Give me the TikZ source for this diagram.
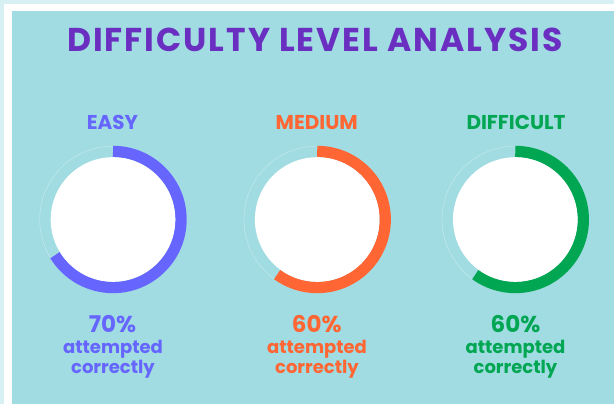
\documentclass[tikz,border=0pt]{standalone}
\usepackage{fontspec}
\setmainfont{Poppins}
\definecolor{pale}{HTML}{D6F0F3}
\definecolor{panel}{HTML}{A0DCE2}
\definecolor{titlepurple}{HTML}{6A2EC1}
\definecolor{easyblue}{HTML}{6666FF}
\definecolor{mediumorange}{HTML}{FF6633}
\definecolor{difficultgreen}{HTML}{00A651}
\tikzset{
  ring/.style={line width=11.4pt},
  track/.style={white, opacity=0.45, line width=0.4pt},
  heading/.style={font=\fontsize{33}{33}\selectfont\bfseries\addfontfeatures{LetterSpace=6}, text=titlepurple, anchor=base},
  level/.style={font=\fontsize{20}{20}\selectfont\bfseries, anchor=base},
  pct/.style={font=\fontsize{23}{23}\selectfont\bfseries, anchor=base},
  caption/.style={font=\fontsize{18}{18}\selectfont\bfseries, anchor=base},
}

\begin{document}
\begin{tikzpicture}[x=1pt,y=1pt]
    \fill[pale] (0,0) rectangle (614,404);
    \fill[white] (4,0) rectangle (614,400);
    \fill[panel] (12,0) rectangle (614,393);
    \node[heading] (title) at (315,352.3) {DIFFICULTY LEVEL ANALYSIS};

    % easy
    \coordinate (easy) at (113,184.5);
    \draw[track] (easy) circle[radius=73.3];
    \draw[ring, easyblue] (easy) ++(90:68) arc[start angle=90, end angle=-148.4, radius=68];
    \fill[white] (easy) circle[radius=62.3];
    \node[level, text=easyblue] (easylabel) at (112.5,274) {EASY};
    \node[pct, text=easyblue] (easypct) at (112.5,71.7) {70\%};
    \node[caption, text=easyblue] (easyline1) at (113,50.7) {attempted};
    \node[caption, text=easyblue] (easyline2) at (113,30) {correctly};

    % medium
    \coordinate (medium) at (317.2,184.5);
    \draw[track] (medium) circle[radius=73.3];
    \draw[ring, mediumorange] (medium) ++(90:68) arc[start angle=90, end angle=-126, radius=68];
    \fill[white] (medium) circle[radius=62.3];
    \node[level, text=mediumorange] (mediumlabel) at (316.7,274) {MEDIUM};
    \node[pct, text=mediumorange] (mediumpct) at (316.7,71.7) {60\%};
    \node[caption, text=mediumorange] (mediumline1) at (317,50.7) {attempted};
    \node[caption, text=mediumorange] (mediumline2) at (317,30) {correctly};

    % difficult
    \coordinate (difficult) at (515.3,184.5);
    \draw[track] (difficult) circle[radius=73.3];
    \draw[ring, difficultgreen] (difficult) ++(90:68) arc[start angle=90, end angle=-126, radius=68];
    \fill[white] (difficult) circle[radius=62.3];
    \node[level, text=difficultgreen] (difficultlabel) at (516,274) {DIFFICULT};
    \node[pct, text=difficultgreen] (difficultpct) at (515.5,71.7) {60\%};
    \node[caption, text=difficultgreen] (difficultline1) at (515.5,50.7) {attempted};
    \node[caption, text=difficultgreen] (difficultline2) at (515.5,30) {correctly};
\end{tikzpicture}
\end{document}
